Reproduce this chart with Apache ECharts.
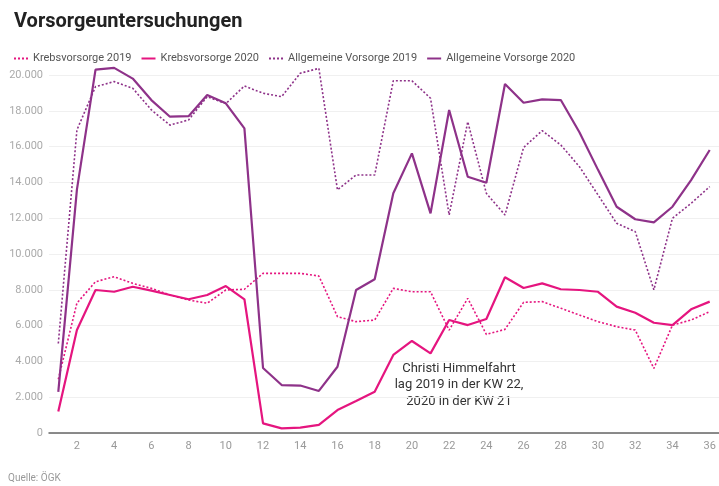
<!DOCTYPE html>
<html>
<head>
<meta charset="utf-8">
<script src="https://cdn.jsdelivr.net/npm/echarts@6/dist/echarts.min.js"></script>
<style>
  html, body { margin: 0; padding: 0; background: #fff; }
  #main { width: 719px; height: 486px; }
</style>
</head>
<body>
<div id="main"></div>
<script>
// Kalenderwochen 1-36
var weeks = [];
for (var i = 1; i <= 36; i++) weeks.push(String(i));

var krebs2019 = [3000, 7260, 8450, 8730, 8360, 8080, 7710, 7430, 7250, 7990, 8030, 8920,
  8920, 8920, 8770, 6500, 6220, 6310, 8080, 7890, 7890, 5750, 7520, 5510,
  5790, 7300, 7340, 6970, 6590, 6220, 5940, 5750, 3610, 6030, 6310, 6780];
var krebs2020 = [1200, 5750, 7990, 7890, 8170, 7950, 7710, 7470, 7710, 8210, 7470, 540,
  260, 300, 450, 1280, 1790, 2310, 4360, 5140, 4450, 6310, 6030, 6370,
  8700, 8100, 8360, 8030, 7990, 7890, 7060, 6720, 6160, 6030, 6910, 7340];
var allg2019 = [5000, 16930, 19350, 19630, 19260, 18050, 17200, 17490, 18790, 18400, 19390, 18980,
  18790, 20100, 20370, 13580, 14410, 14410, 19680, 19680, 18700, 12180, 17390, 13390,
  12180, 15950, 16890, 16090, 14880, 13300, 11715, 11250, 8000, 12000, 12830, 13760];
var allg2020 = [2300, 13600, 20300, 20400, 19800, 18600, 17670, 17700, 18880, 18420, 17020, 3630,
  2680, 2650, 2350, 3700, 7990, 8590, 13390, 15620, 12270, 18045, 14320, 13980,
  19500, 18450, 18640, 18600, 16800, 14700, 12640, 11940, 11770, 12640, 14130, 15810];

var seriesNames = ['Krebsvorsorge 2019', 'Krebsvorsorge 2020', 'Allgemeine Vorsorge 2019', 'Allgemeine Vorsorge 2020'];

var pink = '#e5157f';
var purple = '#8e3289';

function fmt(v) {
  // deutsches Tausendertrennzeichen
  return String(v).replace(/\B(?=(\d{3})+(?!\d))/g, '.');
}

function lineSeries(name, data, color, dotted) {
  return {
    name: name,
    type: 'line',
    data: data,
    symbol: 'none',
    clip: false,
    lineStyle: {
      color: color,
      width: dotted ? 1.6 : 2.2,
      type: dotted ? [2, 2] : 'solid'
    },
    itemStyle: { color: color }
  };
}

var chart = echarts.init(document.getElementById('main'));

var option = {
  backgroundColor: '#fff',
  animation: false,
  textStyle: { fontFamily: 'Roboto, sans-serif' },
  title: {
    text: 'Vorsorgeuntersuchungen',
    left: 9,
    top: 7,
    textStyle: { fontSize: 20, fontWeight: 'bold', color: '#222' }
  },
  legend: {
    data: seriesNames,
    left: 8,
    top: 48,
    itemWidth: 14,
    itemHeight: 8,
    itemGap: 9,
    itemStyle: { opacity: 0 },
    textStyle: { fontSize: 11, color: '#555' }
  },
  grid: {
    left: 49,
    right: 0,
    top: 75,
    bottom: 53
  },
  xAxis: {
    type: 'category',
    data: weeks,
    boundaryGap: true,
    axisLine: { lineStyle: { color: '#666', width: 1.5 } },
    axisTick: { show: false },
    axisLabel: {
      color: '#999',
      fontSize: 11,
      margin: 8,
      interval: function (index) { return (index + 1) % 2 === 0; }
    },
    splitLine: { show: false }
  },
  yAxis: {
    type: 'value',
    min: 0,
    max: 20000,
    interval: 2000,
    axisLine: { show: false },
    axisTick: { show: false },
    axisLabel: {
      color: '#aaa',
      fontSize: 11,
      margin: 6,
      formatter: fmt
    },
    splitLine: { lineStyle: { color: '#f0f0f0' } }
  },
  series: [
    lineSeries(seriesNames[0], krebs2019, pink, true),
    lineSeries(seriesNames[1], krebs2020, pink, false),
    lineSeries(seriesNames[2], allg2019, purple, true),
    lineSeries(seriesNames[3], allg2020, purple, false)
  ],
  graphic: [
    {
      type: 'text',
      x: 459,
      y: 360,
      style: {
        text: 'Christi Himmelfahrt\nlag 2019 in der KW 22,\n2020 in der KW 21',
        align: 'center',
        fill: '#333',
        font: '13px Roboto, sans-serif',
        lineHeight: 16.5
      }
    },
    {
      type: 'text',
      left: 8,
      top: 473,
      style: {
        text: 'Quelle: ÖGK',
        fill: '#999',
        font: '10px Roboto, sans-serif'
      }
    }
  ]
};

chart.setOption(option);
</script>
</body>
</html>
